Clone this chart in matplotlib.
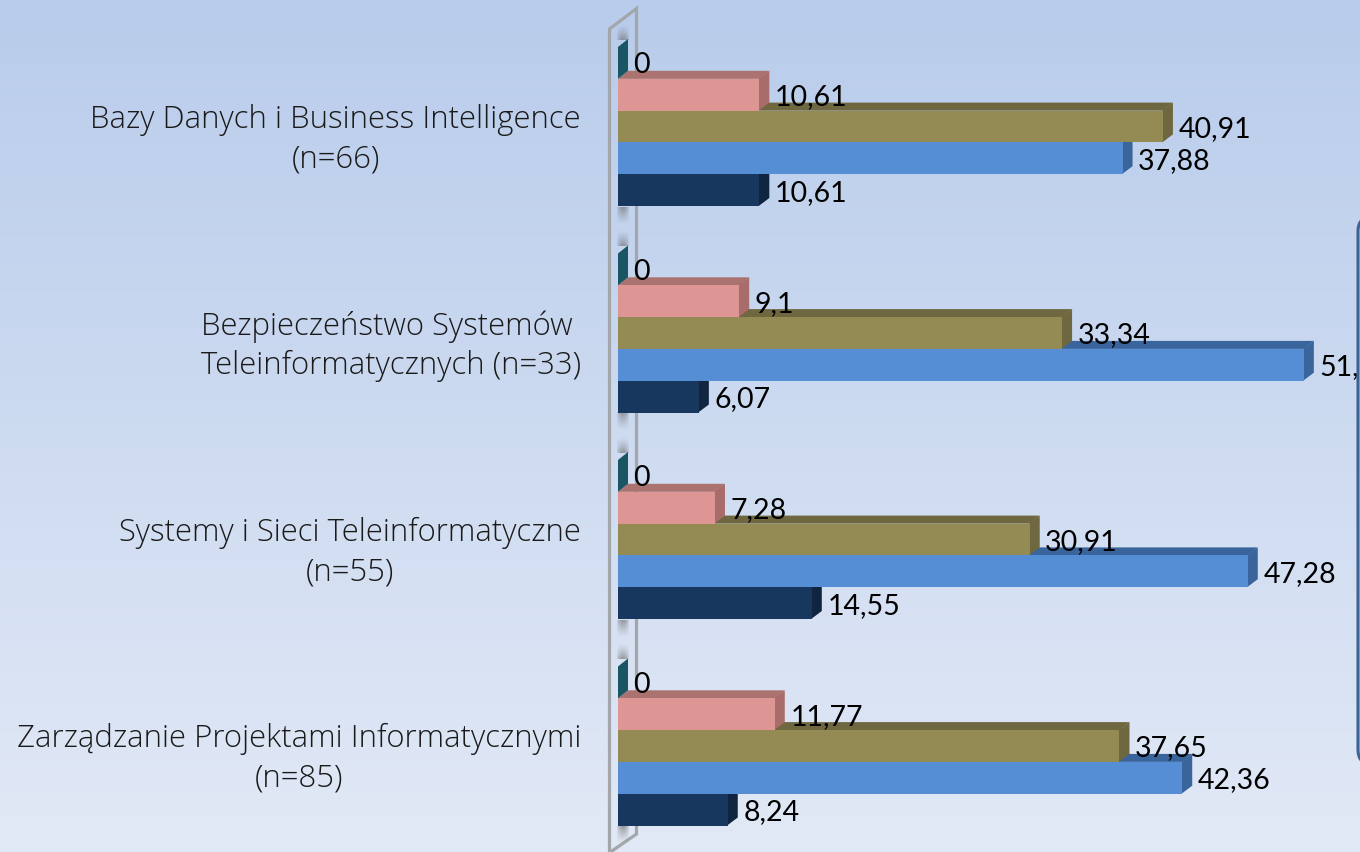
import numpy as np
import matplotlib
matplotlib.use("Agg")
import matplotlib.pyplot as plt
from matplotlib.patches import Polygon, FancyBboxPatch

categories = ["Bazy Danych i Business Intelligence\n(n=66)",
              "Bezpieczeństwo Systemów \nTeleinformatycznych (n=33)",
              "Systemy i Sieci Teleinformatyczne\n(n=55)",
              "Zarządzanie Projektami Informatycznymi\n(n=85)"]
teal = [0, 0, 0, 0]
rose = [10.61, 9.1, 7.28, 11.77]
olive = [40.91, 33.34, 30.91, 37.65]
blue = [37.88, 51.49, 47.28, 42.36]
navy = [10.61, 6.07, 14.55, 8.24]
label_text = {
    "teal": ["0", "0", "0", "0"],
    "rose": ["10,61", "9,1", "7,28", "11,77"],
    "olive": ["40,91", "33,34", "30,91", "37,65"],
    "blue": ["37,88", "51,49", "47,28", "42,36"],
    "navy": ["10,61", "6,07", "14,55", "8,24"],
}

W, H = 1360, 853
PX_X = 13.32       # pixels per value unit
PX_Y = 206.5       # pixels per category
X0, Y0 = 618, 127.5  # pixel of value 0 / first category centre
BAR_PX = 31.8
DX, DY = 10 / PX_X, 8 / PX_Y
BH = BAR_PX / PX_Y

fig = plt.figure(figsize=(W / 100, H / 100), dpi=100)
bg = fig.add_axes([0, 0, 1, 1], zorder=0)
bg.axis("off")
top_c, bot_c = np.array([184, 204, 235]) / 255, np.array([226, 233, 246]) / 255
t = np.linspace(0, 1, 256)[:, None, None]
bg.imshow(top_c * (1 - t) + bot_c * t, aspect="auto", extent=[0, 1, 0, 1])

ax = fig.add_axes([0, 0, 1, 1], zorder=1)
ax.patch.set_alpha(0)
ax.axis("off")
xl = (-X0 / PX_X, (W - X0) / PX_X)
yl = ((H - Y0) / PX_Y, -Y0 / PX_Y)


def px(x, y):
    return ((x - X0) / PX_X, (y - Y0) / PX_Y)


# back wall frame
wall = [(609.5, 860), (609.5, 30), (636.5, 9.5), (636.5, 835), (610.5, 853)]
ax.add_patch(Polygon([px(*p) for p in wall], closed=False, fill=False,
                     ec="#a3a6ab", lw=2.3, joinstyle="miter", zorder=1))


def shadow(y_from, y_to, strong_at_end):
    a = np.linspace(0, 1, 32)[:, None] ** 1.3
    if not strong_at_end:
        a = a[::-1]
    across = np.sin(np.linspace(0.35, np.pi - 0.35, 12))[None, :]
    alpha = (0.62 * a * across)[:, :, None]
    img = np.concatenate([np.full((32, 12, 3), 0.42), alpha], axis=2)
    (x1, y1), (x2, y2) = px(617, y_from), px(629, y_to)
    ax.imshow(img, extent=[x1, x2, y2, y1], aspect="auto", zorder=1.5,
              interpolation="bilinear")


series = [
    (navy, "navy", "#17375e", "#0f2540", "#0f2540"),
    (blue, "blue", "#558ed5", "#3a659c", "#3a659c"),
    (olive, "olive", "#948a54", "#6f673f", "#6f673f"),
    (rose, "rose", "#de9694", "#aa7370", "#a86c6a"),
    (teal, "teal", "#205867", "#205867", "#1a5563"),
]
slots = {"teal": -2, "rose": -1, "olive": 0, "blue": 1, "navy": 2}

for i in range(4):
    # wall shadows above and below each group of bars
    yc = Y0 + i * PX_Y
    shadow(yc - 103, yc - 87, True)
    shadow(yc + 80, yc + 98, False)
    for values, name, front, top, side in series:
        v = values[i]
        yc_bar = i + slots[name] * BH
        y1, y2 = yc_bar - BH / 2, yc_bar + BH / 2
        z = 2 + 0.1 * (slots["navy"] - slots[name])
        ax.add_patch(Polygon([(0, y1), (DX, y1 - DY), (v + DX, y1 - DY), (v, y1)],
                             fc=top, ec="none", zorder=z))
        ax.add_patch(Polygon([(v - 0.05 if v > 0 else v, y1), (v + DX, y1 - DY),
                              (v + DX, y2 - DY), (v - 0.05 if v > 0 else v, y2)],
                             fc=side, ec="none", zorder=z))
        if v > 0:
            ax.barh(yc_bar, v, height=BH, color=front, edgecolor="none", zorder=z + 0.01)
        ax.text(v + 15.5 / PX_X, yc_bar + 1.5 / PX_Y, label_text[name][i],
                ha="left", va="center", fontsize=20.5, family="Lato",
                color="black", zorder=5)
    ax.text((581 - X0) / PX_X, i + 12 / PX_Y, categories[i], ha="right", va="center",
            multialignment="center", fontsize=22.4, family="Open Sans",
            fontweight="light", color="#1a1a1a", linespacing=1.3, zorder=5)

ax.add_patch(FancyBboxPatch((1372, 102), 200, 519,
                            boxstyle="round,pad=14,rounding_size=14",
                            transform=None, fc="#cbd8ef", ec="#3c6396", lw=2.2, zorder=6))
ax.set_xlim(*xl)
ax.set_ylim(*yl)
fig.savefig("out.png", dpi=100)
